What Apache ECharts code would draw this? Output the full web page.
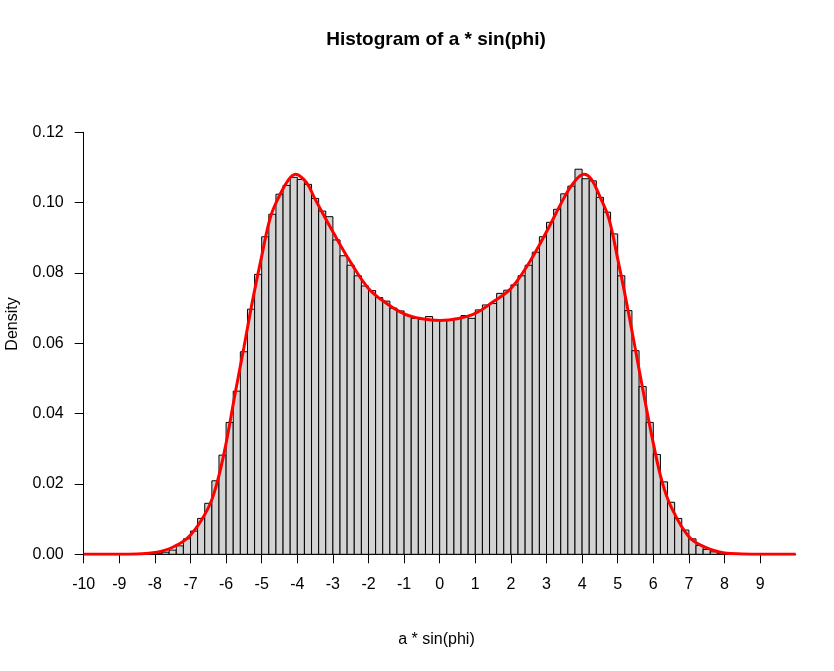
<!DOCTYPE html>
<html>
<head>
<meta charset="utf-8">
<script src="https://cdn.jsdelivr.net/npm/echarts@6/dist/echarts.min.js"></script>
<style>
html,body{margin:0;padding:0;background:#fff;}
#chart{width:834px;height:671px;}
</style>
</head>
<body>
<div id="chart"></div>
<script>
// Histogram bin edges (left edge of each bin, width 0.2)
const binLefts = [
  -8.0,-7.8,-7.6,-7.4,-7.2,-7.0,-6.8,-6.6,-6.4,-6.2,
  -6.0,-5.8,-5.6,-5.4,-5.2,-5.0,-4.8,-4.6,-4.4,-4.2,
  -4.0,-3.8,-3.6,-3.4,-3.2,-3.0,-2.8,-2.6,-2.4,-2.2,
  -2.0,-1.8,-1.6,-1.4,-1.2,-1.0,-0.8,-0.6,-0.4,-0.2,
   0.0, 0.2, 0.4, 0.6, 0.8, 1.0, 1.2, 1.4, 1.6, 1.8,
   2.0, 2.2, 2.4, 2.6, 2.8, 3.0, 3.2, 3.4, 3.6, 3.8,
   4.0, 4.2, 4.4, 4.6, 4.8, 5.0, 5.2, 5.4, 5.6, 5.8,
   6.0, 6.2, 6.4, 6.6, 6.8, 7.0, 7.2, 7.4, 7.6, 7.8
];
const binWidth = 0.2;
const densities = [
  0.0003,0.0006,0.0012,0.0024,0.0044,0.0066,0.0102,0.0145,0.0209,0.0282,
  0.0375,0.0464,0.0576,0.0697,0.0796,0.0903,0.0967,0.1024,0.1049,0.1072,
  0.1066,0.1052,0.1012,0.0976,0.0960,0.0894,0.0849,0.0822,0.0792,0.0763,
  0.0750,0.0730,0.0720,0.0700,0.0692,0.0679,0.0671,0.0668,0.0676,0.0667,
  0.0665,0.0665,0.0671,0.0679,0.0671,0.0695,0.0709,0.0713,0.0742,0.0751,
  0.0766,0.0792,0.0822,0.0859,0.0903,0.0944,0.0981,0.1025,0.1047,0.1095,
  0.1068,0.1062,0.1015,0.0973,0.0911,0.0792,0.0693,0.0579,0.0477,0.0375,
  0.0284,0.0206,0.0148,0.0102,0.0069,0.0044,0.0025,0.0014,0.0007,0.0003
];
// Density curve (red)
const curveX = [-10,-9,-8.5,-8,-7.5,-7,-6.5,-6.25,-6,-5.75,-5.5,-5.25,-5,-4.75,-4.5,-4.25,-4.05,-3.75,-3.5,-3,-2.5,-2,-1.5,-1,-0.5,0,0.5,1,1.5,2,2.5,3,3.5,3.75,4.05,4.25,4.5,4.75,5,5.25,5.5,5.75,6,6.25,6.5,7,7.5,8,8.5,9,10];
const curveY = [0,0,0.0001,0.0005,0.0020,0.0055,0.0132,0.0205,0.0316,0.0455,0.0588,0.0725,0.0848,0.0960,0.1020,0.1065,0.1081,0.1058,0.1010,0.0917,0.0830,0.0756,0.0714,0.0684,0.0670,0.0665,0.0670,0.0685,0.0718,0.0756,0.0827,0.0917,0.1015,0.1055,0.1081,0.1068,0.1017,0.0955,0.0840,0.0715,0.0581,0.0445,0.0316,0.0205,0.0135,0.0050,0.0018,0.0004,0.0001,0,0];
// Axis ticks
const xTicks = [-10,-9,-8,-7,-6,-5,-4,-3,-2,-1,0,1,2,3,4,5,6,7,8,9];
const yTicks = [0,0.02,0.04,0.06,0.08,0.10,0.12];

const FONT = "'Liberation Sans', Arial, sans-serif";
const histData = binLefts.map((x, i) => [x, x + binWidth, densities[i]]);
const curveData = curveX.map((x, i) => [x, curveY[i]]);

const chart = echarts.init(document.getElementById('chart'), null, {renderer: 'canvas'});
chart.setOption({
  animation: false,
  backgroundColor: '#ffffff',
  grid: {left: 83.7, top: 132.3, width: 712, height: 422, containLabel: false},
  xAxis: {
    type: 'value', min: -10, max: 10, interval: 1,
    axisLine: {show: true, onZero: false, lineStyle: {color: '#000', width: 1}},
    axisTick: {show: true, length: 9, customValues: xTicks, lineStyle: {color: '#000', width: 1}},
    axisLabel: {show: true, customValues: xTicks, margin: 22, color: '#000', fontSize: 16, fontFamily: FONT},
    splitLine: {show: false}
  },
  yAxis: {
    type: 'value', min: 0, max: 0.12, interval: 0.02,
    axisLine: {show: true, onZero: false, lineStyle: {color: '#000', width: 1}},
    axisTick: {show: true, length: 9, customValues: yTicks, lineStyle: {color: '#000', width: 1}},
    axisLabel: {show: true, customValues: yTicks, margin: 20, color: '#000', fontSize: 16, fontFamily: FONT,
      formatter: v => Number(v).toFixed(2)},
    splitLine: {show: false}
  },
  graphic: [
    {type: 'text', x: 436, y: 40, style: {text: 'Histogram of a * sin(phi)', font: 'bold 19px ' + FONT, fill: '#000', textAlign: 'center', textVerticalAlign: 'middle'}},
    {type: 'text', x: 436.5, y: 640, style: {text: 'a * sin(phi)', font: '16px ' + FONT, fill: '#000', textAlign: 'center', textVerticalAlign: 'middle'}},
    {type: 'text', x: 13, y: 324, rotation: Math.PI / 2, style: {text: 'Density', font: '16px ' + FONT, fill: '#000', textAlign: 'center', textVerticalAlign: 'middle'}}
  ],
  series: [
    {
      type: 'custom',
      data: histData,
      encode: {x: [0, 1], y: 2},
      renderItem: function (params, api) {
        const p0 = api.coord([api.value(0), api.value(2)]);
        const p1 = api.coord([api.value(1), 0]);
        return {
          type: 'rect',
          shape: {x: p0[0], y: p0[1], width: p1[0] - p0[0], height: p1[1] - p0[1]},
          style: {fill: '#d3d3d3', stroke: '#000', lineWidth: 1}
        };
      },
      z: 2
    },
    {
      type: 'line',
      data: curveData,
      smooth: 0.4,
      showSymbol: false,
      symbol: 'none',
      lineStyle: {color: '#ff0000', width: 3},
      z: 3
    }
  ]
});
</script>
</body>
</html>
